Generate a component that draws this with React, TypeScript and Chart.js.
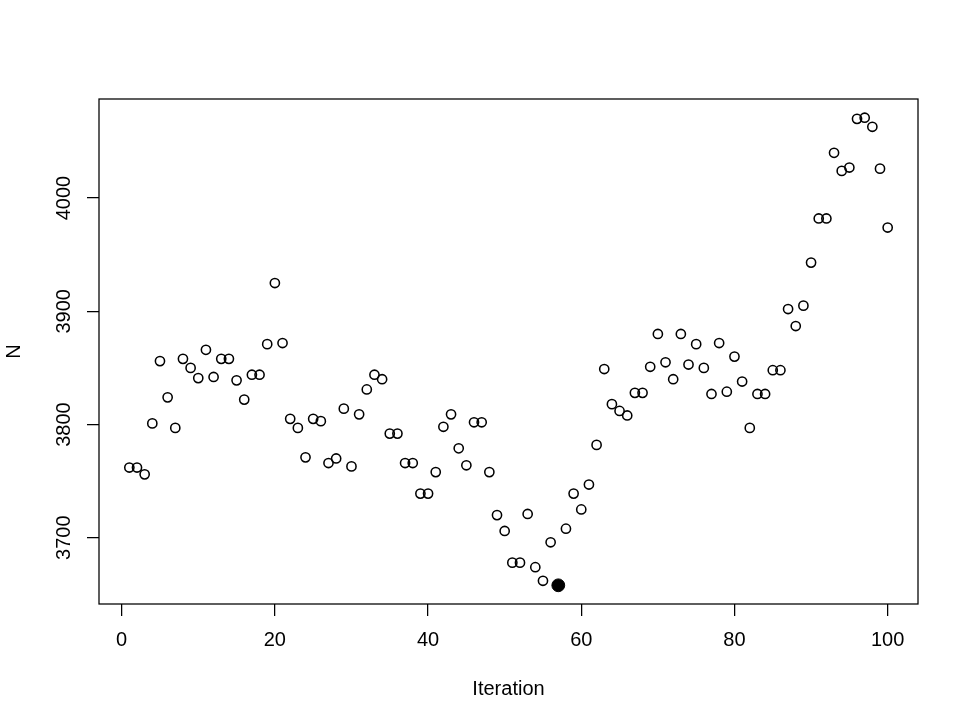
import React, { useEffect, useRef } from "react";
import { Chart, registerables } from "chart.js";

Chart.register(...registerables);

// ---- data ----
const iterations = [
  1, 2, 3, 4, 5, 6, 7, 8, 9, 10,
  11, 12, 13, 14, 15, 16, 17, 18, 19, 20,
  21, 22, 23, 24, 25, 26, 27, 28, 29, 30,
  31, 32, 33, 34, 35, 36, 37, 38, 39, 40,
  41, 42, 43, 44, 45, 46, 47, 48, 49, 50,
  51, 52, 53, 54, 55, 56, 57, 58, 59, 60,
  61, 62, 63, 64, 65, 66, 67, 68, 69, 70,
  71, 72, 73, 74, 75, 76, 77, 78, 79, 80,
  81, 82, 83, 84, 85, 86, 87, 88, 89, 90,
  91, 92, 93, 94, 95, 96, 97, 98, 99, 100,
];

const nValues = [
  3762, 3762, 3756, 3801, 3856, 3824, 3797, 3858, 3850, 3841,
  3866, 3842, 3858, 3858, 3839, 3822, 3844, 3844, 3871, 3925,
  3872, 3805, 3797, 3771, 3805, 3803, 3766, 3770, 3814, 3763,
  3809, 3831, 3844, 3840, 3792, 3792, 3766, 3766, 3739, 3739,
  3758, 3798, 3809, 3779, 3764, 3802, 3802, 3758, 3720, 3706,
  3678, 3678, 3721, 3674, 3662, 3696, 3658, 3708, 3739, 3725,
  3747, 3782, 3849, 3818, 3812, 3808, 3828, 3828, 3851, 3880,
  3855, 3840, 3880, 3853, 3871, 3850, 3827, 3872, 3829, 3860,
  3838, 3797, 3827, 3827, 3848, 3848, 3902, 3887, 3905, 3943,
  3982, 3982, 4040, 4024, 4027, 4070, 4071, 4063, 4026, 3974,
];

const bestIteration = 57;
const xTickValues = [0, 20, 40, 60, 80, 100];
const yTickValues = [3700, 3800, 3900, 4000];
const xLabel = "Iteration";
const yLabel = "N";

// ---- style ----
const FONT = "'Liberation Sans', Arial, Helvetica, sans-serif";
const LW = 1.26;

export default function App() {
  const ref = useRef<HTMLCanvasElement>(null);

  useEffect(() => {
    const canvas = ref.current;
    if (!canvas) return;

    const points = iterations.map((x, i) => ({ x, y: nValues[i] }));
    const bi = iterations.indexOf(bestIteration);
    const best = [{ x: bestIteration, y: nValues[bi] }];

    const xMin = Math.min(...iterations);
    const xMax = Math.max(...iterations);
    const yMin = Math.min(...nValues);
    const yMax = Math.max(...nValues);
    const xPad = (xMax - xMin) * 0.04;
    const yPad = (yMax - yMin) * 0.04;

    const font = { family: FONT, size: 20, lineHeight: 1.2 };

    const rPlugin = {
      id: "rBoxAndYLabels",
      afterDraw(chart: any) {
        const { ctx, chartArea: a } = chart;
        const ys = chart.scales.y;
        ctx.save();
        ctx.strokeStyle = "#000";
        ctx.lineWidth = LW;
        ctx.strokeRect(a.left, a.top, a.right - a.left, a.bottom - a.top);
        ctx.fillStyle = "#000";
        ctx.font = `20px ${FONT}`;
        ctx.textAlign = "center";
        ctx.textBaseline = "alphabetic";
        for (const t of ys.ticks) {
          const py = ys.getPixelForValue(t.value);
          ctx.save();
          ctx.translate(a.left - 29, py);
          ctx.rotate(-Math.PI / 2);
          ctx.fillText(String(t.value), 0, 0);
          ctx.restore();
        }
        ctx.restore();
      },
    };

    const chart = new Chart(canvas, {
      type: "scatter",
      data: {
        datasets: [
          {
            label: "best",
            data: best,
            pointStyle: "circle",
            pointRadius: 6.4,
            pointBorderWidth: 1,
            pointBackgroundColor: "#000",
            pointBorderColor: "#000",
          },
          {
            label: "N",
            data: points,
            pointStyle: "circle",
            pointRadius: 4.6,
            pointBorderWidth: 1.55,
            pointBackgroundColor: "rgba(0,0,0,0)",
            pointBorderColor: "#000",
          },
        ],
      },
      options: {
        responsive: false,
        maintainAspectRatio: false,
        animation: false,
        devicePixelRatio: 1,
        layout: { padding: { top: 99, right: 51, left: 0, bottom: 0 } },
        plugins: {
          legend: { display: false },
          tooltip: { enabled: false },
        },
        scales: {
          x: {
            type: "linear",
            position: "bottom",
            min: xMin - xPad,
            max: xMax + xPad,
            afterBuildTicks: (s: any) => {
              s.ticks = xTickValues.map((v) => ({ value: v }));
            },
            afterFit: (s: any) => {
              s.height = 123;
            },
            grid: {
              drawOnChartArea: false,
              drawTicks: true,
              tickLength: 12,
              color: "#000",
              lineWidth: LW,
            },
            border: { display: false },
            ticks: {
              color: "#000",
              font,
              padding: 12,
              maxRotation: 0,
              minRotation: 0,
              autoSkip: false,
              callback: (v: any) => String(v),
            },
            title: {
              display: true,
              text: xLabel,
              color: "#000",
              font,
              padding: { top: 0, bottom: 26 },
            },
          },
          y: {
            type: "linear",
            position: "left",
            min: yMin - yPad,
            max: yMax + yPad,
            afterBuildTicks: (s: any) => {
              s.ticks = yTickValues.map((v) => ({ value: v }));
            },
            afterFit: (s: any) => {
              s.width = 99;
            },
            grid: {
              drawOnChartArea: false,
              drawTicks: true,
              tickLength: 12,
              color: "#000",
              lineWidth: LW,
            },
            border: { display: false },
            ticks: { display: false },
            title: {
              display: true,
              text: yLabel,
              color: "#000",
              font,
              padding: { top: 2.5, bottom: 0 },
            },
          },
        },
      },
      plugins: [rPlugin],
    } as any);

    return () => chart.destroy();
  }, []);

  return (
    <div
      style={{
        position: "fixed",
        left: 0,
        top: 0,
        width: 969,
        height: 727,
        background: "#fff",
      }}
    >
      <canvas ref={ref} width={969} height={727} style={{ width: 969, height: 727 }} />
    </div>
  );
}
